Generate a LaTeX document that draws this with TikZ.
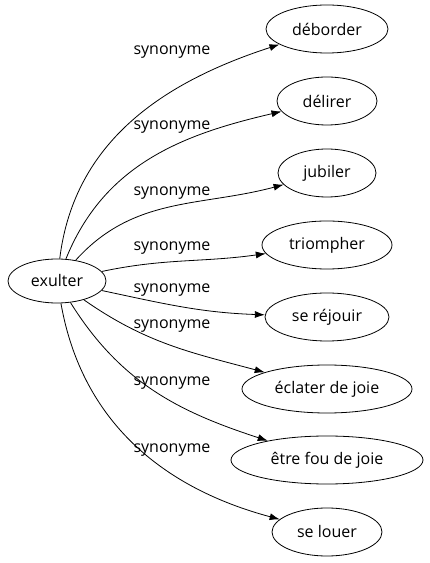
\documentclass[tikz,border=0pt]{standalone}
\usepackage{fontspec}
\setmainfont{Open Sans}
\usetikzlibrary{shapes.geometric,arrows.meta}
\begin{document}
\begin{tikzpicture}[x=1pt,y=1pt,
  word/.style={draw,line width=0.8pt,ellipse,inner sep=0pt,minimum height=48pt,font=\fontsize{16}{18}\selectfont},
  lbl/.style={font=\fontsize{16}{18}\selectfont,inner sep=0pt},
  edge/.style={-{Latex[length=10pt,width=7pt]},line width=0.8pt}]
\useasboundingbox (0,0) rectangle (429,563);
\node[word,minimum width=98pt,minimum height=44pt] (ex) at (57,282) {exulter};
\node[word,minimum width=122pt] (n1) at (327,534) {déborder};
\node[word,minimum width=100pt] (n2) at (327,462) {délirer};
\node[word,minimum width=98pt] (n3) at (327,390) {jubiler};
\node[word,minimum width=130pt] (n4) at (327,318) {triompher};
\node[word,minimum width=124pt] (n5) at (327,246) {se réjouir};
\node[word,minimum width=170pt] (n6) at (327,174) {éclater de joie};
\node[word,minimum width=192pt] (n7) at (327,103) {être fou de joie};
\node[word,minimum width=110pt] (n8) at (327,31) {se louer};
\draw[edge] (ex) to[out=83,in=198] (n1);
\draw[edge] (ex) to[out=68,in=193] (n2);
\draw[edge] (ex) to[out=48,in=195] (n3);
\draw[edge] (ex) to[out=12,in=188] (n4);
\draw[edge] (ex) to[out=-12,in=178] (n5);
\draw[edge] (ex) to[out=-35,in=165] (n6);
\draw[edge] (ex) to[out=-58,in=162] (n7);
\draw[edge] (ex) to[out=-80,in=165] (n8);
\node[lbl] (l1) at (172,511) {synonyme};
\node[lbl] (l2) at (172,436) {synonyme};
\node[lbl] (l3) at (172,370) {synonyme};
\node[lbl] (l4) at (172,315) {synonyme};
\node[lbl] (l5) at (172,273) {synonyme};
\node[lbl] (l6) at (172,237) {synonyme};
\node[lbl] (l7) at (172,180) {synonyme};
\node[lbl] (l8) at (172,113) {synonyme};
\end{tikzpicture}
\end{document}
